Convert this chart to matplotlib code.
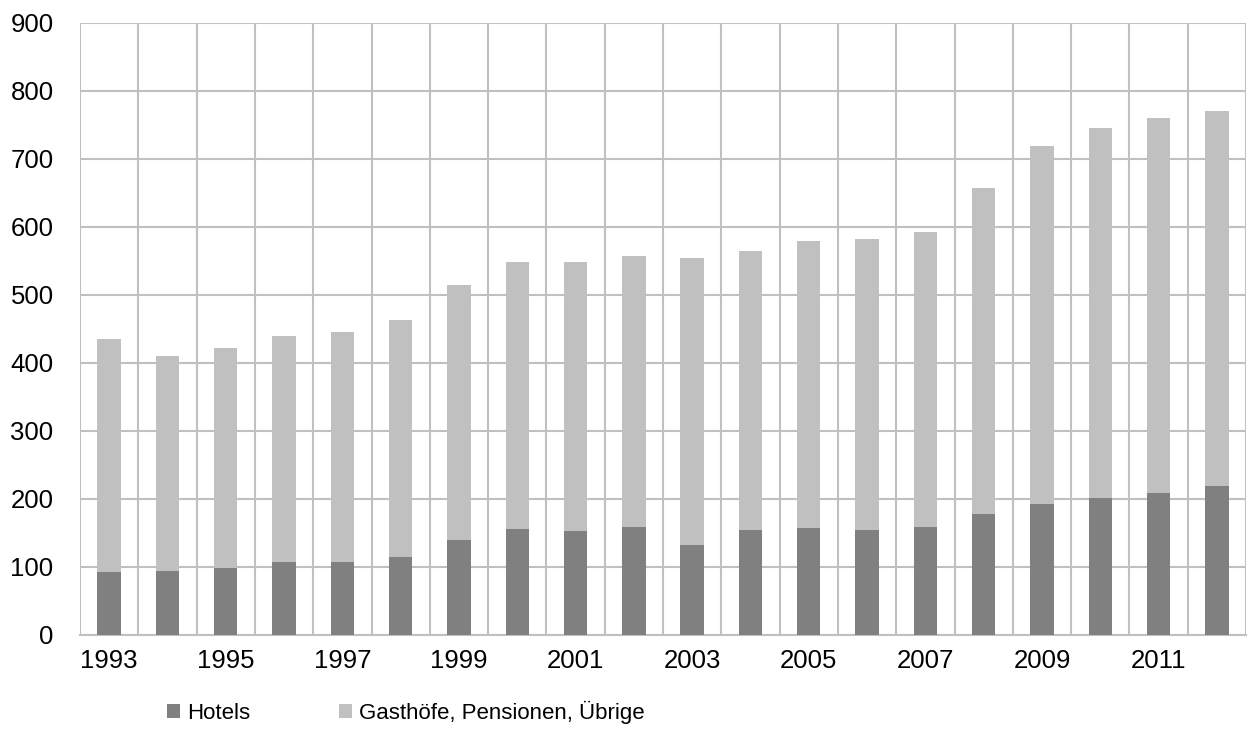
import matplotlib
matplotlib.use("Agg")
import matplotlib.pyplot as plt
import numpy as np

plt.rcParams["font.family"] = ["Liberation Sans", "DejaVu Sans"]

years = list(range(1993, 2013))
hotels = [92, 94, 99, 108, 108, 115, 139, 156, 153, 159,
          132, 154, 157, 154, 159, 178, 192, 201, 209, 219]
totals = [435, 411, 422, 439, 446, 463, 514, 548, 548, 558,
          555, 565, 579, 582, 592, 657, 719, 746, 760, 770]
others = [t - h for t, h in zip(totals, hotels)]

series_names = ["Hotels", "Gasthöfe, Pensionen, Übrige"]
colors = ["#808080", "#c0c0c0"]
grid_color = "#c0c0c0"

fig = plt.figure(figsize=(12.48, 7.35), dpi=100)
ax = fig.add_axes([80 / 1248, 100 / 735, 1166 / 1248, 612 / 735])

x = np.arange(len(years))
b1 = ax.bar(x, hotels, width=0.4, color=colors[0], zorder=3, label=series_names[0])
b2 = ax.bar(x, others, width=0.4, bottom=hotels, color=colors[1], zorder=3,
            label=series_names[1])

ax.set_xlim(-0.5, len(years) - 0.5)
ax.set_ylim(0, 900)
ax.set_yticks(np.arange(0, 901, 100))
ax.set_xticks(x[::2])
ax.set_xticklabels([str(y) for y in years[::2]])
ax.set_xticks(np.arange(-0.5, len(years), 1.0), minor=True)

ax.grid(axis="y", which="major", color=grid_color, linewidth=1.5, zorder=0)
ax.grid(axis="x", which="minor", color=grid_color, linewidth=1.5, zorder=0)
ax.grid(axis="x", which="major", visible=False)

for side in ["top", "right", "left"]:
    ax.spines[side].set_visible(False)
ax.spines["bottom"].set_color(grid_color)
ax.spines["bottom"].set_linewidth(1.5)

ax.tick_params(axis="both", which="both", length=0)
ax.tick_params(axis="y", labelsize=18.5, pad=19)
ax.tick_params(axis="x", labelsize=18.5, pad=10)

fig.legend(handles=[b1, b2], labels=series_names, loc="center left",
           bbox_to_anchor=(167 / 1248, 1 - 712 / 735), ncol=2, frameon=False,
           fontsize=16, handlelength=0.6, handleheight=0.6, handletextpad=0.3,
           columnspacing=4.0, borderpad=0, borderaxespad=0)

fig.savefig("out.png", dpi=100)
